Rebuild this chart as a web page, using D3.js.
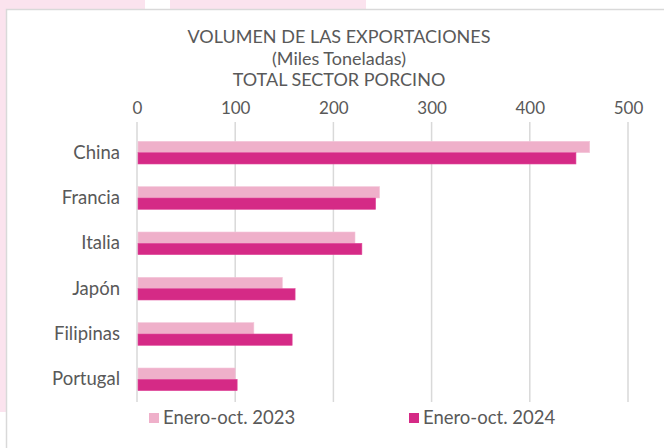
<!DOCTYPE html>
<html>
<head>
<meta charset="utf-8">
<script src="https://cdn.jsdelivr.net/npm/d3@7"></script>
<style>
  body { margin: 0; background: #fff; }
  svg { display: block; }
</style>
</head>
<body>
<div id="wrapper"></div>
<script>
// Datos (miles de toneladas)
const paises = ["China", "Francia", "Italia", "Japón", "Filipinas", "Portugal"];
const series = ["Enero-oct. 2023", "Enero-oct. 2024"];
const valores2023 = [461, 247, 222, 148, 119, 100];
const valores2024 = [447, 243, 229, 161, 158, 102];
const ticks = [0, 100, 200, 300, 400, 500];
const titulo = ["VOLUMEN DE LAS EXPORTACIONES", "(Miles Toneladas)", "TOTAL SECTOR PORCINO"];

const colores = ["#efb0ca", "#d52a86"];
const gris = "#595959";
const fuente = "Lato, 'Open Sans', sans-serif";

const width = 664, height = 448;

const svg = d3.select("#wrapper").append("svg")
  .attr("width", width)
  .attr("height", height);

// fondo rosado fuera del cuadro del gráfico
svg.append("rect").attr("x", 0).attr("y", 0).attr("width", 145).attr("height", 10).attr("fill", "#fbe3ee");
svg.append("rect").attr("x", 170).attr("y", 0).attr("width", 196).attr("height", 10).attr("fill", "#fbe3ee");
svg.append("rect").attr("x", 0).attr("y", 0).attr("width", 6).attr("height", 412).attr("fill", "#fbe3ee");

// cuadro
svg.append("rect")
  .attr("x", 6.5).attr("y", 9.5)
  .attr("width", width).attr("height", height)
  .attr("fill", "#fff")
  .attr("stroke", "#d9d9d9")
  .attr("stroke-width", 1.5);

// título
svg.append("g").selectAll("text")
  .data(titulo)
  .join("text")
  .attr("x", 339)
  .attr("y", (d, i) => 43 + i * 21.5)
  .attr("text-anchor", "middle")
  .attr("font-family", fuente)
  .attr("font-size", 18)
  .attr("fill", gris)
  .text(d => d);

const margin = { top: 130, bottom: 46, left: 137, right: 36 };

const x = d3.scaleLinear().domain([0, 500]).range([margin.left, width - margin.right]);
const y = d3.scaleBand().domain(paises).range([margin.top, height - margin.bottom]).paddingInner(0.5).paddingOuter(0.25);
const ySub = d3.scaleBand().domain(series).range([0, y.bandwidth()]);

// líneas de cuadrícula
svg.append("g").selectAll("line")
  .data(ticks)
  .join("line")
  .attr("x1", d => x(d)).attr("x2", d => x(d))
  .attr("y1", margin.top - 8).attr("y2", height - margin.bottom)
  .attr("stroke", "#d9d9d9")
  .attr("stroke-width", 1.5);

// eje superior
const ejeX = svg.append("g")
  .attr("transform", `translate(0,${margin.top - 16})`)
  .call(d3.axisTop(x).tickValues(ticks).tickSize(0).tickPadding(0));
ejeX.select(".domain").remove();
ejeX.selectAll("text").attr("font-family", fuente).attr("font-size", 17).attr("fill", gris);

// eje de países
const ejeY = svg.append("g")
  .attr("transform", `translate(${margin.left - 17},0)`)
  .call(d3.axisLeft(y).tickSize(0).tickPadding(0));
ejeY.select(".domain").remove();
ejeY.selectAll("text").attr("font-family", fuente).attr("font-size", 18.5).attr("fill", gris);

// barras
const datos = [valores2023, valores2024];
series.forEach((s, k) => {
  svg.append("g").selectAll("rect")
    .data(paises)
    .join("rect")
    .attr("x", x(0) + 1)
    .attr("y", d => y(d) + ySub(s))
    .attr("width", (d, i) => x(datos[k][i]) - x(0) - 1)
    .attr("height", ySub.bandwidth())
    .attr("fill", colores[k])
    .attr("stroke", k === 0 ? "#f4c6d9" : "#e04a9a")
    .attr("stroke-width", 0.6);
});

// leyenda
const leyenda = svg.append("g").attr("transform", "translate(0,418)");
const posX = [149, 409];
series.forEach((s, k) => {
  leyenda.append("rect")
    .attr("x", posX[k]).attr("y", -5)
    .attr("width", 10).attr("height", 10)
    .attr("fill", colores[k]);
  leyenda.append("text")
    .attr("x", posX[k] + 14).attr("y", 0)
    .attr("dy", "0.35em")
    .attr("font-family", fuente)
    .attr("font-size", 18.5)
    .attr("fill", gris)
    .text(s);
});
</script>
</body>
</html>
